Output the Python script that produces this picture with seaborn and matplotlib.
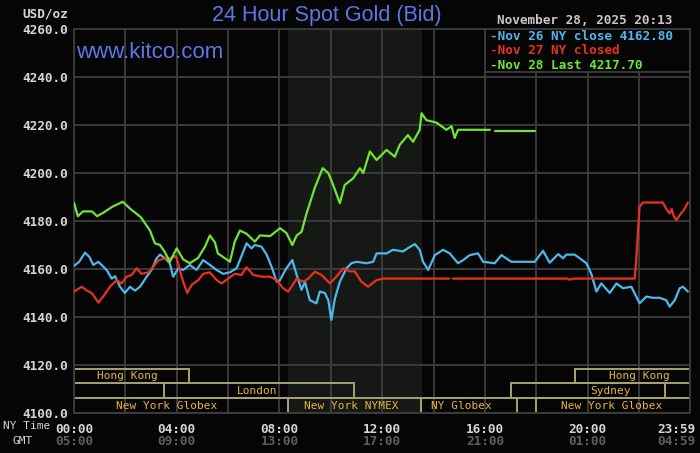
import numpy as np
import pandas as pd
import matplotlib.pyplot as plt
from matplotlib.patches import Rectangle
from matplotlib.transforms import ScaledTranslation
import seaborn as sns

# hours after 00:00 NY time, bid in USD/oz
nov26_hours = [0.0, 0.2, 0.43, 0.6, 0.75, 0.95, 1.27, 1.47, 1.6, 1.79, 1.98, 2.18, 2.37, 2.57,
               2.83, 3.02, 3.22, 3.35, 3.54, 3.73, 3.86, 4.06, 4.25, 4.51, 4.77, 5.03, 5.29,
               5.55, 5.81, 6.07, 6.33, 6.59, 6.72, 6.91, 7.04, 7.3, 7.5, 7.69, 7.89, 8.0, 8.15,
               8.27, 8.5, 8.67, 8.86, 8.99, 9.18, 9.44, 9.57, 9.77, 9.9, 10.02, 10.16, 10.35,
               10.61, 10.8, 11.0, 11.39, 11.65, 11.78, 12.17, 12.42, 12.81, 13.0, 13.27, 13.46,
               13.59, 13.79, 14.05, 14.37, 14.63, 14.95, 15.15, 15.41, 15.73, 15.93, 16.38,
               16.64, 17.03, 17.94, 18.26, 18.52, 18.85, 19.04, 19.17, 19.49, 19.75, 19.95,
               20.14, 20.34, 20.53, 20.86, 21.12, 21.37, 21.7, 21.89, 22.02, 22.28, 22.54,
               22.8, 23.06, 23.19, 23.39, 23.58, 23.71, 23.9]
nov26_price = [4161.3, 4163, 4166.8, 4165, 4161.7, 4163, 4159.6, 4156, 4157, 4152.6, 4150,
               4152.6, 4151, 4152.6, 4156.8, 4159.6, 4164.5, 4166, 4164.5, 4162.4, 4156.8,
               4160.3, 4159.6, 4161.7, 4159.6, 4163.7, 4161.7, 4159.6, 4158, 4158.6, 4160.3,
               4167.2, 4170.7, 4168.6, 4170, 4169.3, 4166, 4161, 4154.7, 4155, 4158, 4160.3,
               4163.7, 4157.5, 4151.3, 4154.7, 4147, 4145.7, 4150.6, 4150, 4147, 4138.8,
               4147.8, 4154.7, 4160.3, 4162.4, 4163, 4162.4, 4163, 4166.5, 4166.5, 4168,
               4167.3, 4168.7, 4170.4, 4168, 4163, 4159.6, 4165.8, 4168, 4166.5, 4162.4,
               4163.7, 4165.8, 4166.5, 4163, 4162.4, 4165.8, 4163, 4163, 4167.6, 4162.6,
               4166.2, 4164.5, 4166, 4166, 4164, 4162.4, 4158, 4150.6, 4154, 4150, 4154, 4152,
               4152.6, 4148.5, 4145.7, 4148.5, 4148, 4148, 4147, 4144.3, 4147, 4152, 4152.6,
               4150.6]

nov27_hours = [0.0, 0.3, 0.5, 0.69, 0.95, 1.14, 1.4, 1.66, 1.85, 2.05, 2.24, 2.44, 2.63, 2.89,
               3.09, 3.28, 3.48, 3.74, 3.97, 4.12, 4.25, 4.41, 4.58, 4.84, 5.03, 5.29, 5.55,
               5.75, 6.0, 6.26, 6.52, 6.72, 6.98, 7.3, 7.63, 7.89, 8.14, 8.34, 8.47, 8.67,
               8.93, 9.12, 9.38, 9.64, 9.96, 10.22, 10.48, 10.74, 10.93, 11.19, 11.45, 11.78,
               12.04, 14.6, 14.65, 14.75, 19.2, 19.3, 19.4, 21.83, 21.89, 22.02, 22.15, 22.93,
               23.06, 23.19, 23.27, 23.35, 23.45, 23.58, 23.77, 23.9]
nov27_price = [4150.6, 4152.6, 4151, 4150, 4146, 4148.6, 4152.6, 4155.4, 4154, 4156.8,
               4157.5, 4160.3, 4158, 4158.6, 4161, 4163.5, 4164.3, 4164.5, 4165.4, 4159.6,
               4154.7, 4150, 4153.4, 4155.4, 4158, 4158.6, 4155.4, 4154, 4156, 4158, 4157.5,
               4160.7, 4157.5, 4156.8, 4156.8, 4155.4, 4152, 4150.6, 4152.6, 4156, 4154.7,
               4156, 4158.9, 4157.5, 4154, 4156.8, 4160.3, 4159, 4159, 4154.7, 4152.6, 4155.4,
               4156, 4156, np.nan, 4156, 4156, 4155.5, 4156, 4156, 4164, 4186, 4187.7, 4187.7,
               4185, 4183.2, 4185, 4182, 4180.4, 4182.4, 4185, 4187.7]

nov28_hours = [0.0, 0.15, 0.35, 0.7, 0.9, 1.15, 1.5, 1.9, 2.2, 2.6, 2.96, 3.15, 3.35, 3.54,
               3.73, 4.0, 4.25, 4.51, 4.83, 5.1, 5.29, 5.49, 5.6, 5.94, 6.07, 6.26, 6.46, 6.72,
               7.04, 7.24, 7.63, 8.02, 8.27, 8.5, 8.67, 8.86, 9.05, 9.38, 9.68, 9.9, 10.09,
               10.35, 10.54, 10.87, 11.13, 11.26, 11.52, 11.78, 12.17, 12.49, 12.68, 13.0,
               13.2, 13.46, 13.53, 13.72, 14.11, 14.5, 14.7, 14.82, 14.95, 16.19, 16.28,
               16.38, 17.94]
nov28_price = [4187.6, 4182, 4184, 4184, 4182, 4183.5, 4186, 4188, 4185, 4181.6, 4176,
               4170.7, 4170, 4167, 4163, 4168.6, 4164, 4162.4, 4164.6, 4169.3, 4174, 4171,
               4166.5, 4164, 4163, 4171.4, 4176, 4174.7, 4171.4, 4174, 4173.7, 4177, 4175,
               4170, 4174, 4175.5, 4183, 4194, 4202, 4200, 4195, 4187.4, 4195, 4197.8, 4202,
               4200, 4209, 4205.4, 4209.6, 4206.8, 4211.7, 4215.8, 4213, 4218, 4224.9, 4222,
               4221, 4218, 4219.5, 4214.6, 4218, 4218, np.nan, 4217.7, 4217.7]

series_names = ['Nov 26', 'Nov 27', 'Nov 28']
series_colors = ['#4cb8ec', '#e8321e', '#6ee632']
legend_labels = ['-Nov 26 NY close 4162.80', '-Nov 27 NY closed', '-Nov 28 Last 4217.70']

ny_ticks = [0, 4, 8, 12, 16, 20, 23.983]
ny_labels = ['00:00', '04:00', '08:00', '12:00', '16:00', '20:00', '23:59']
gmt_labels = ['05:00', '09:00', '13:00', '17:00', '21:00', '01:00', '04:59']
price_ticks = [4100, 4120, 4140, 4160, 4180, 4200, 4220, 4240, 4260]

# trading sessions: row (0 = bottom), start, end, label, label position
session_rows = [2, 2, 1, 1, 0, 0, 0, 0]
session_start = [0, 19.5, 3.5, 17.0, 0, 8.33, 13.5, 18.0]
session_end = [4.47, 23.983, 10.9, 23.0, 8.33, 13.5, 17.25, 23.983]
session_names = ['Hong Kong', 'Hong Kong', 'London', 'Sydney',
                 'New York Globex', 'New York NYMEX', 'NY Globex', 'New York Globex']
session_label_x = [2.06, 22.0, 7.12, 20.9, 3.62, 10.8, 15.1, 20.93]
row_edges = [4100, 4106.2, 4112.3, 4118.4]

W, H = 700, 453
bg = '#050505'
grid_c = '#3a3a3a'

sns.set_style('dark')
plt.rcParams['font.family'] = ['DejaVu Sans Mono']

fig = plt.figure(figsize=(W / 100, H / 100), dpi=100, facecolor=bg)
ax = fig.add_axes([74 / W, 40 / H, 616 / W, 384 / H])
ax.set_facecolor(bg)

# NYMEX pit session shading
ax.axvspan(8.33, 13.5, color='#151815', zorder=0)

frames = []
for name, hrs, prc in zip(series_names,
                          [nov26_hours, nov27_hours, nov28_hours],
                          [nov26_price, nov27_price, nov28_price]):
    d = pd.DataFrame({'hour': hrs, 'price': prc})
    d['seg'] = d['price'].isna().cumsum()
    d['day'] = name
    frames.append(d.dropna())
prices = pd.concat(frames, ignore_index=True)

for name, color in zip(series_names, series_colors):
    sns.lineplot(data=prices[prices['day'] == name], x='hour', y='price', units='seg',
                 estimator=None, color=color, lw=1.6, ax=ax, legend=False, zorder=3)

# session boxes
for r, s, e, lab, lx in zip(session_rows, session_start, session_end, session_names, session_label_x):
    y0, y1 = row_edges[r], row_edges[r + 1]
    ax.add_patch(Rectangle((s, y0), e - s, y1 - y0, facecolor='none', edgecolor='#a8a272',
                           lw=1.4, zorder=2))
    ax.text(lx, (y0 + y1) / 2, lab, color='#e6b53a', fontsize=8, ha='center', va='center',
            zorder=4)

ax.set_xlim(0, 23.983)
ax.set_ylim(4100, 4260)
ax.set_xticks(ny_ticks)
ax.set_xticklabels(ny_labels)
ax.set_xticks(np.arange(2, 24, 2), minor=True)
ax.set_yticks(price_ticks)
ax.set_yticklabels([f'{p:.1f}' for p in price_ticks])
ax.grid(True, which='both', color=grid_c, lw=1.4, zorder=1)
ax.set_axisbelow(True)
ax.tick_params(axis='both', which='both', length=0, colors='#d6d6d6', labelsize=9.2)
ax.tick_params(axis='x', pad=7)
ax.tick_params(axis='y', pad=4.5)
for lab in ax.get_xticklabels() + ax.get_yticklabels():
    lab.set_fontweight('bold')
ax.set_xlabel('')
ax.set_ylabel('')
for sp in ax.spines.values():
    sp.set_color(grid_c)
    sp.set_linewidth(1.4)

# last label sits just inside the right edge
nudge = ScaledTranslation(5 / 100, 0, fig.dpi_scale_trans)
last = ax.get_xticklabels()[-1]
last.set_horizontalalignment('right')
last.set_transform(last.get_transform() + nudge)

for i, (t, g) in enumerate(zip(ny_ticks, gmt_labels)):
    tr = ax.get_xaxis_transform()
    ha = 'center'
    if i == len(ny_ticks) - 1:
        tr = tr + nudge
        ha = 'right'
    ax.text(t, -0.073, g, transform=tr, color='#5e5e5e',
            fontsize=9.2, fontweight='bold', ha=ha, va='center')

# legend box
ax.add_patch(Rectangle(((485 - 74) / 616, (413 - 72) / 384), 205 / 616, 43 / 384,
                       transform=ax.transAxes, facecolor=bg, edgecolor=grid_c, lw=1.4,
                       zorder=5))
for i, (lab, color) in enumerate(zip(legend_labels, series_colors)):
    fig.text(490 / W, 1 - (36 + 14.5 * i) / H, lab, color=color, fontsize=9.2,
             fontweight='bold', ha='left', va='center')

fig.text(497 / W, 1 - 21 / H, 'November 28, 2025 20:13', color='#c8c8c8', fontsize=9.2,
         fontweight='bold', ha='left', va='center')
fig.text(22 / W, 1 - 14 / H, 'USD/oz', color='#d6d6d6', fontsize=9.2, fontweight='bold',
         ha='left', va='center')
fig.text(3 / W, 1 - 426 / H, 'NY Time', color='#d6d6d6', fontsize=8, ha='left', va='center')
fig.text(23 / W, 1 - 441 / H, 'GMT', color='#d6d6d6', fontsize=8, ha='center', va='center')

fig.text(327 / W, 1 - 15 / H, '24 Hour Spot Gold (Bid)', color='#5b78e8', fontsize=15.5,
         family='Liberation Sans', ha='center', va='center')
fig.text(76 / W, 1 - 52 / H, 'www.kitco.com', color='#5b78e8', fontsize=16,
         family='Liberation Sans', ha='left', va='center')

fig.savefig('out.png', dpi=100, facecolor=bg)
